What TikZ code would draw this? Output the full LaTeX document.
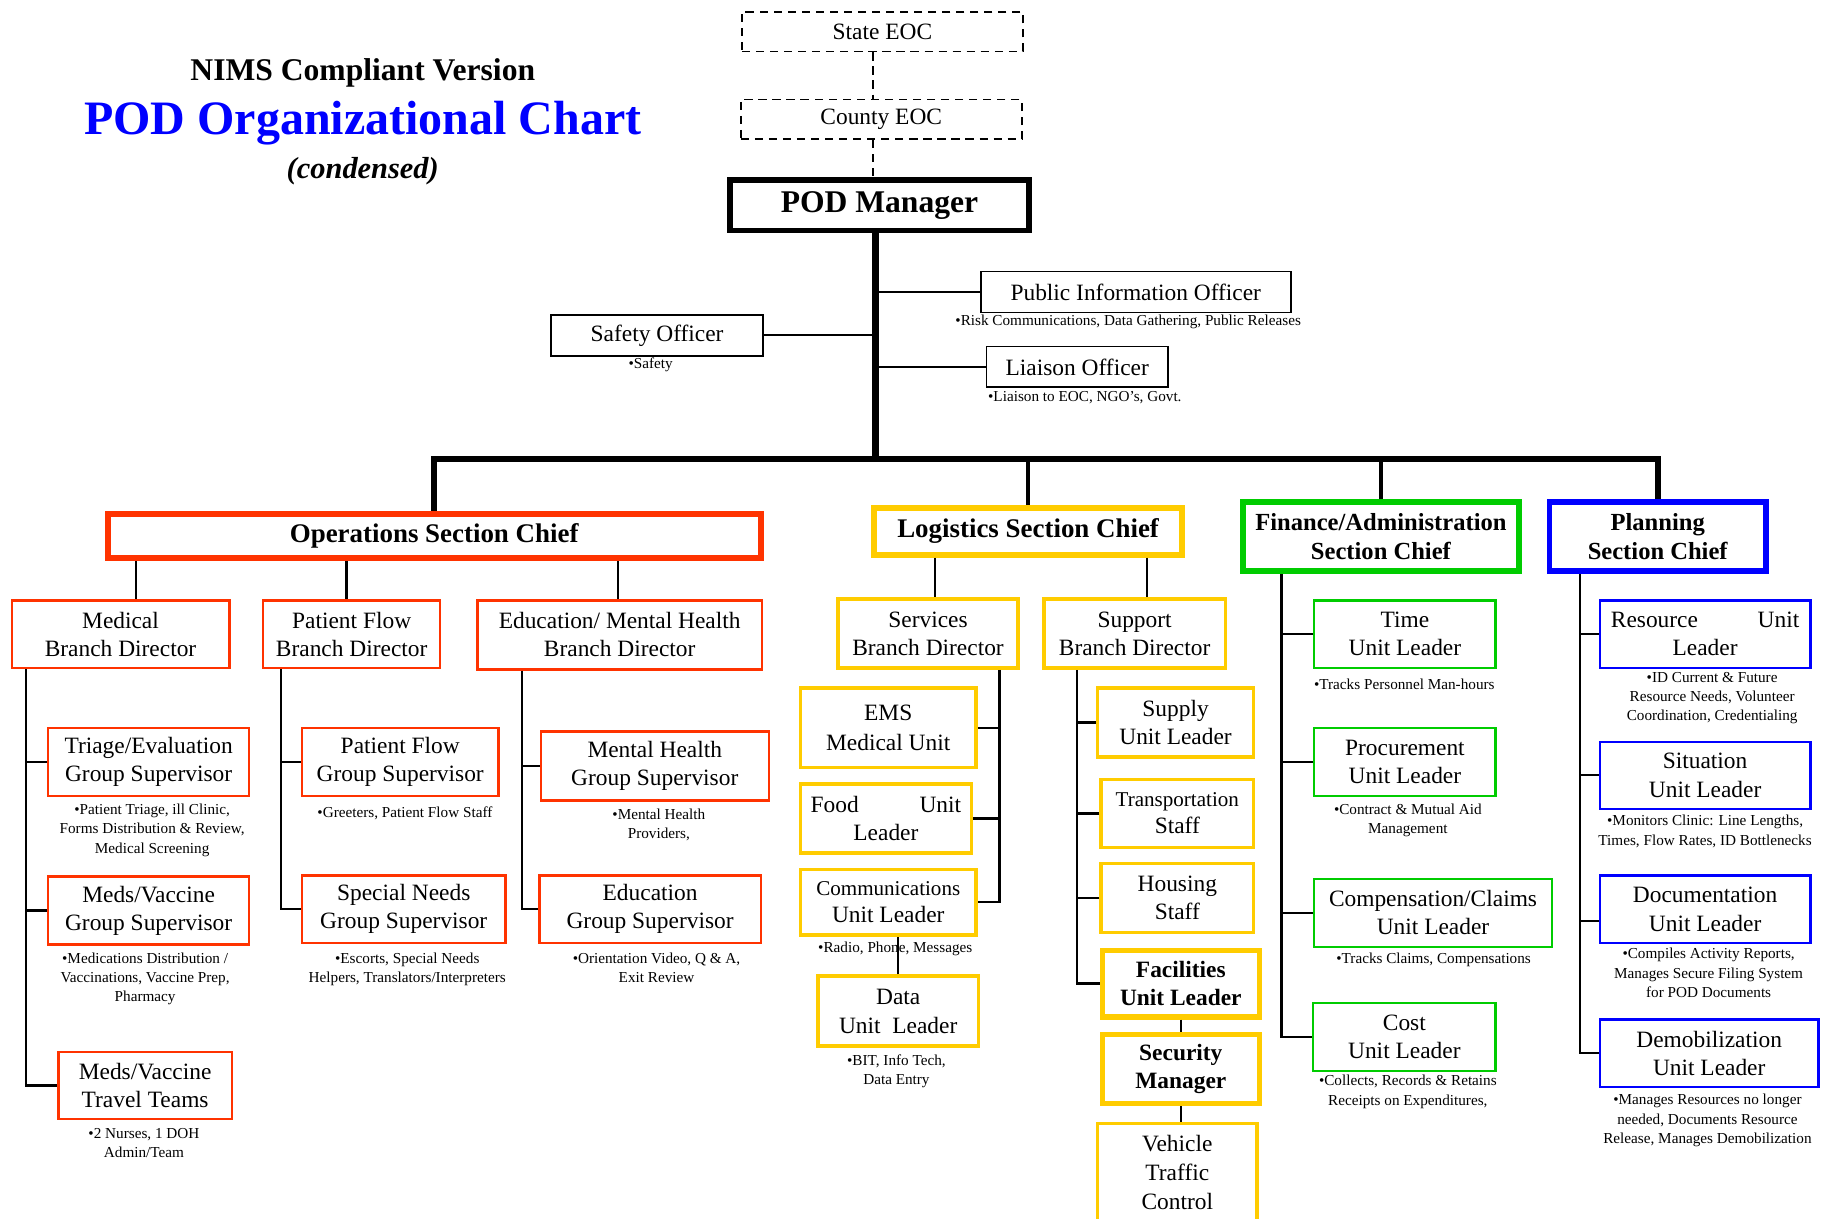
\documentclass[tikz,border=0pt]{standalone}
\usepackage{fontspec}
\setmainfont{Liberation Serif}
\usetikzlibrary{positioning,calc}
\definecolor{opsred}{RGB}{255,51,0}
\definecolor{loggold}{RGB}{255,204,0}
\definecolor{fingreen}{RGB}{0,204,0}
\definecolor{planblue}{RGB}{0,0,255}
\newcommand*{\fsz}[2]{\fontsize{#1}{#2}\selectfont}
\tikzset{
  wh/.style 2 args={minimum width=#1pt,minimum height=#2pt},
  box/.style={draw,line width=1.5pt,align=center,inner sep=1pt,font=\fsz{20}{24}},
  chief/.style={box,line width=5pt,font=\bfseries\fsz{23}{27}},
  opsbox/.style={box,draw=opsred,line width=2pt},
  logbox/.style={box,draw=loggold,line width=3pt},
  finbox/.style={box,draw=fingreen,line width=2pt},
  planbox/.style={box,draw=planblue,line width=2pt},
  note/.style={align=center,inner sep=0pt,font=\fsz{13}{16.5}},
  rail/.style={line width=2pt},
}

\begin{document}
\begin{tikzpicture}[x=1pt,y=-1pt]
\useasboundingbox (0,0) rectangle (1568,1041.6);
% title
\node[font=\bfseries\fsz{27}{32}] (nims) at (310,62) {NIMS Compliant Version};
\node[font=\bfseries\fsz{41}{48},text=planblue] (title) at (310,105) {POD Organizational Chart};
\node[font=\bfseries\itshape\fsz{26}{31}] (cond) at (310,146) {(condensed)};
% command
\node[box,dashed,dash pattern=on 7pt off 5pt,wh={240}{34}] (state) at (754,27) {State EOC};
\node[box,dashed,dash pattern=on 7pt off 5pt,wh={240}{34}] (county) at (753,102) {County EOC};
\node[chief,wh={256}{43},font=\bfseries\fsz{27}{32}] (pod) at (751.5,175.5) {POD Manager};
\node[box,wh={265}{35}] (pio) at (970.5,249.5) {Public Information Officer};
\node[note] (pionote) at (964,275) {•Risk Communications, Data Gathering, Public Releases};
\node[box,wh={181}{35}] (safety) at (561.5,286.5) {Safety Officer};
\node[note] (safetynote) at (556,312) {•Safety};
\node[box,wh={155}{35}] (liaison) at (920.5,313.5) {Liaison Officer};
\node[note] (liaisonnote) at (927,340) {•Liaison to EOC, NGO’s, Govt.};
\coordinate (eoc) at (746,0);
\draw[line width=1.5pt,dash pattern=on 7pt off 5pt] (eoc |- state.south) -- (eoc |- county.north);
\draw[line width=1.5pt,dash pattern=on 7pt off 5pt] (eoc |- county.south) -- (eoc |- pod.north);
% sections
\node[chief,draw=opsred,wh={558}{38}] (ops) at (371,458) {Operations Section Chief};
\node[chief,draw=loggold,wh={263}{40}] (log) at (878.5,454) {Logistics Section Chief};
\node[chief,draw=fingreen,wh={236}{59},font=\bfseries\fsz{21}{25}] (fin) at (1180,458.5) {Finance/Administration\\Section Chief};
\node[chief,draw=planblue,wh={185}{59},font=\bfseries\fsz{21}{25}] (plan) at (1416.5,458.5) {Planning\\Section Chief};
\coordinate (trunk) at (748,392);
\draw[line width=6pt] (pod.south -| trunk) -- (trunk);
\draw[line width=1.5pt] (pio.west) -- (pio.west -| trunk);
\draw[line width=1.5pt] (safety.east) -- (safety.east -| trunk);
\draw[line width=1.5pt] (liaison.west) -- (liaison.west -| trunk);
\draw[line width=5pt] (ops.north) |- (trunk) -| (plan.north);
\draw[line width=4pt] (log.north) -- (log.north |- trunk);
\draw[line width=4pt] (fin.north) -- (fin.north |- trunk);
% operations
\node[opsbox,wh={186}{58}] (medbd) at (103,542) {Medical\\Branch Director};
\node[opsbox,wh={151}{58}] (pfbd) at (300.5,542) {Patient Flow\\Branch Director};
\node[opsbox,wh={243}{59}] (edubd) at (529.5,542.5) {Education/ Mental Health\\Branch Director};
\node[opsbox,wh={172}{58}] (triage) at (127,651) {Triage/Evaluation\\Group Supervisor};
\node[note] (triagenote) at (130,709.5) {•Patient Triage, ill Clinic,\\Forms Distribution \& Review,\\Medical Screening};
\node[opsbox,wh={172}{58}] (medsgs) at (127,778) {Meds/Vaccine\\Group Supervisor};
\node[note] (medsgsnote) at (124,836.5) {•Medications Distribution /\\Vaccinations, Vaccine Prep,\\Pharmacy};
\node[opsbox,wh={148}{57}] (travel) at (124,927.5) {Meds/Vaccine\\Travel Teams};
\node[note] (travelnote) at (123,977) {•2 Nurses, 1 DOH\\Admin/Team};
\node[opsbox,wh={168}{58}] (pfgs) at (342,651) {Patient Flow\\Group Supervisor};
\node[note] (pfgsnote) at (346,695) {•Greeters, Patient Flow Staff};
\node[opsbox,wh={174}{58}] (special) at (345,777) {Special Needs\\Group Supervisor};
\node[note] (specialnote) at (348,828.5) {•Escorts, Special Needs\\Helpers, Translators/Interpreters};
\node[opsbox,wh={195}{59}] (mhgs) at (559.5,654.5) {Mental Health\\Group Supervisor};
\node[note] (mhgsnote) at (563,705) {•Mental Health\\Providers,};
\node[opsbox,wh={189}{58}] (edugs) at (555.5,777) {Education\\Group Supervisor};
\node[note] (edugsnote) at (561,827) {•Orientation Video, Q \& A,\\Exit Review};
\coordinate (meddrop) at (116,0);
\coordinate (pfdrop) at (296,0);
\coordinate (edudrop) at (528,0);
\draw[rail] (meddrop |- ops.south) -- (meddrop |- medbd.north);
\draw[rail] (pfdrop |- ops.south) -- (pfdrop |- pfbd.north);
\draw[rail] (edudrop |- ops.south) -- (edudrop |- edubd.north);
\coordinate (medrail) at (22,0);
\draw[rail] (medbd.south -| medrail) |- (travel.west);
\draw[rail] (triage.west) -- (triage.west -| medrail);
\draw[rail] (medsgs.west) -- (medsgs.west -| medrail);
\coordinate (pfrail) at (240,0);
\draw[rail] (pfbd.south -| pfrail) |- (special.west);
\draw[rail] (pfgs.west) -- (pfgs.west -| pfrail);
\coordinate (edurail) at (446,0);
\draw[rail] (edubd.south -| edurail) |- (edugs.west);
\draw[rail] (mhgs.west) -- (mhgs.west -| edurail);
% logistics
\node[logbox,wh={154}{59}] (servbd) at (793,541.5) {Services\\Branch Director};
\node[logbox,wh={155}{59}] (suppbd) at (969.5,541.5) {Support\\Branch Director};
\node[logbox,wh={150}{68},font=\fsz{20}{25}] (ems) at (759,622) {EMS\\Medical Unit};
\node[logbox,wh={146}{59}] (food) at (757,699.5) {Food\hspace{2.6em}Unit\\Leader};
\node[logbox,wh={150}{56},font=\fsz{18}{23}] (comms) at (759,771) {Communications\\\fsz{20}{23}Unit Leader};
\node[note] (commsnote) at (765,811) {•Radio, Phone, Messages};
\node[logbox,wh={137}{60},font=\fsz{20}{25}] (data) at (767.5,864) {Data\\Unit\ \ Leader};
\node[note] (datanote) at (766,915.5) {•BIT,\ Info Tech,\\Data Entry};
\node[logbox,wh={133}{59}] (supply) at (1004.5,617.5) {Supply\\Unit Leader};
\node[logbox,wh={130}{58},font=\fsz{18}{23}] (transport) at (1006,695) {Transportation\\\fsz{20}{23}Staff};
\node[logbox,wh={130}{59}] (housing) at (1006,767.5) {Housing\\Staff};
\node[logbox,line width=4.5pt,wh={134}{57},font=\bfseries\fsz{20}{24}] (facil) at (1009,840.5) {Facilities\\Unit Leader};
\node[logbox,line width=4.5pt,wh={134}{59},font=\bfseries\fsz{20}{24}] (security) at (1009,913.5) {Security\\Manager};
\node[logbox,wh={136}{84},font=\fsz{20}{25}] (vehicle) at (1006,1002) {Vehicle\\Traffic\\Control};
\coordinate (servdrop) at (799,0);
\coordinate (suppdrop) at (980,0);
\draw[rail] (servdrop |- log.south) -- (servdrop |- servbd.north);
\draw[rail] (suppdrop |- log.south) -- (suppdrop |- suppbd.north);
\coordinate (servrail) at (854,0);
\draw[rail] (servbd.south -| servrail) |- (comms.east);
\draw[rail] (ems.east) -- (ems.east -| servrail);
\draw[rail] (food.east) -- (food.east -| servrail);
\draw[rail] (data.north) -- (data.north |- comms.south);
\coordinate (supprail) at (920,0);
\draw[rail] (suppbd.south -| supprail) |- (facil.west);
\draw[rail] (supply.west) -- (supply.west -| supprail);
\draw[rail] (transport.west) -- (transport.west -| supprail);
\draw[rail] (housing.west) -- (housing.west -| supprail);
\draw[rail] (facil.south) -- (security.north);
\draw[rail] (security.south) -- (security.south |- vehicle.north);
% finance
\node[finbox,wh={155}{58}] (time) at (1200.5,542) {Time\\Unit Leader};
\node[note] (timenote) at (1200,585) {•Tracks Personnel Man-hours};
\node[finbox,wh={155}{58}] (procure) at (1200.5,651) {Procurement\\Unit Leader};
\node[note] (procurenote) at (1203,701) {•Contract \& Mutual Aid\\Management};
\node[finbox,wh={203}{58}] (comp) at (1224.5,780) {Compensation/Claims\\Unit Leader};
\node[note] (compnote) at (1225,820) {•Tracks Claims, Compensations};
\node[finbox,wh={156}{58}] (cost) at (1200,886) {Cost\\Unit Leader};
\node[note] (costnote) at (1203,933) {•Collects, Records \& Retains\\Receipts on Expenditures,};
\coordinate (finrail) at (1095,0);
\draw[rail] (fin.south -| finrail) |- (cost.west);
\draw[rail] (time.west) -- (time.west -| finrail);
\draw[rail] (procure.west) -- (procure.west -| finrail);
\draw[rail] (comp.west) -- (comp.west -| finrail);
% planning
\node[planbox,wh={180}{58}] (resource) at (1457,542) {Resource\hspace{2.55em}Unit\\Leader};
\node[note] (resourcenote) at (1463,596.5) {•ID Current \& Future\\Resource Needs, Volunteer\\Coordination, Credentialing};
\node[planbox,wh={180}{57}] (situation) at (1457,662.5) {Situation\\Unit Leader};
\node[note] (situationnote) at (1457,710.5) {•Monitors Clinic: Line Lengths,\\Times, Flow Rates, ID Bottlenecks};
\node[planbox,wh={180}{58}] (docu) at (1457,777) {Documentation\\Unit Leader};
\node[note] (docunote) at (1460,831.5) {•Compiles Activity Reports,\\Manages Secure Filing System\\for POD Documents};
\node[planbox,wh={187}{58}] (demob) at (1460.5,900) {Demobilization\\Unit Leader};
\node[note] (demobnote) at (1459,957.5) {•Manages Resources no longer\\needed, Documents Resource\\Release, Manages Demobilization};
\coordinate (planrail) at (1350,0);
\draw[rail] (plan.south -| planrail) |- (demob.west);
\draw[rail] (resource.west) -- (resource.west -| planrail);
\draw[rail] (situation.west) -- (situation.west -| planrail);
\draw[rail] ([yshift=-10pt]docu.west) -- ([yshift=-10pt]docu.west -| planrail);
\end{tikzpicture}
\end{document}
